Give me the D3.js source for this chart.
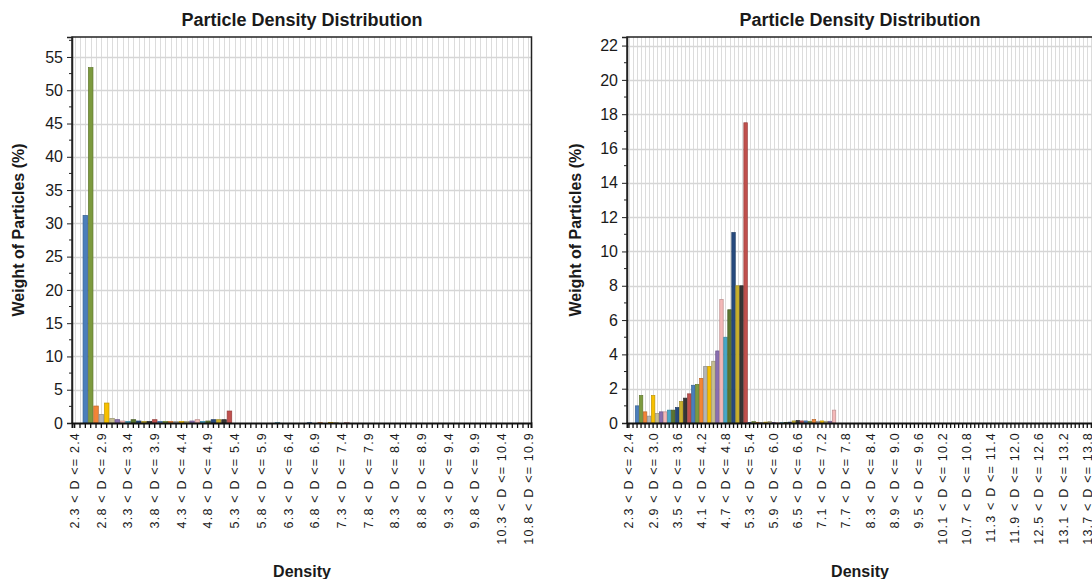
<!DOCTYPE html>
<html>
<head>
<meta charset="utf-8">
<script src="https://cdn.jsdelivr.net/npm/d3@7"></script>
<style>
  body { margin: 0; background: #fff; }
  svg { display: block; font-family: "Liberation Sans", Arial, sans-serif; }
</style>
</head>
<body>
<svg id="chart" width="1092" height="579"></svg>
<script>
// Density bins: each bin covers (lo, lo + 0.1]
const binStart = 2.3;
const binStep = 0.1;

// Weight of particles (%) per density bin, first sample (86 bins: 2.3 .. 10.9)
const leftValues = [
  0, 0, 31.2, 53.4, 2.55, 1.3, 3.0, 0.7, 0.5, 0.3,
  0.25, 0.5, 0.3, 0.25, 0.25, 0.5, 0.25, 0.25, 0.25, 0.2,
  0.25, 0.25, 0.3, 0.5, 0.25, 0.3, 0.5, 0.5, 0.5, 1.8,
  0, 0, 0, 0, 0, 0, 0, 0, 0.05, 0,
  0, 0, 0, 0, 0.05, 0, 0.05, 0, 0.08, 0.05,
  0, 0.08, 0, 0, 0, 0, 0, 0, 0, 0,
  0, 0, 0, 0, 0, 0, 0, 0, 0, 0,
  0, 0, 0, 0, 0, 0, 0, 0, 0, 0,
  0, 0, 0, 0, 0, 0
];

// Weight of particles (%) per density bin, second sample (120 bins: 2.3 .. 14.3)
const rightValues = [
  0, 0, 1.0, 1.6, 0.65, 0.4, 1.6, 0.55, 0.65, 0.65,
  0.75, 0.75, 0.9, 1.25, 1.45, 1.7, 2.2, 2.25, 2.6, 3.3,
  3.3, 3.6, 4.2, 7.2, 5.0, 6.6, 11.1, 8.0, 8.0, 17.5,
  0.03, 0.08, 0.04, 0.03, 0.05, 0.08, 0.03, 0.02, 0.02, 0.03,
  0.05, 0.12, 0.15, 0.12, 0.12, 0.1, 0.2, 0.1, 0.12, 0.1,
  0.1, 0.75, 0, 0, 0, 0, 0, 0, 0, 0,
  0, 0, 0, 0, 0, 0, 0, 0, 0, 0,
  0, 0, 0, 0, 0, 0, 0, 0, 0, 0,
  0, 0, 0, 0, 0, 0, 0, 0, 0, 0,
  0, 0, 0, 0, 0, 0, 0, 0, 0, 0,
  0, 0, 0, 0, 0, 0, 0, 0, 0, 0,
  0, 0, 0, 0, 0, 0, 0, 0, 0, 0
];

const leftYTicks = [0, 5, 10, 15, 20, 25, 30, 35, 40, 45, 50, 55];
const rightYTicks = [0, 2, 4, 6, 8, 10, 12, 14, 16, 18, 20, 22];

// Bar colours cycle through this list by bin index
const palette = [
  "#363636", "#c0504d", "#4a7ebb", "#7c9a3e", "#f28436", "#b5b5b5", "#f7c000",
  "#c6be92", "#8a6fb0", "#f4b8b8", "#48a8c8", "#5b7530", "#274a7e", "#c9b02c"
];

const chartTitle = "Particle Density Distribution";
const xTitle = "Density";
const yTitle = "Weight of Particles (%)";

function binLabel(i) {
  const lo = Math.round((binStart + i * binStep) * 10) / 10;
  const hi = Math.round((lo + binStep) * 10) / 10;
  return `${lo.toFixed(1)} < D <= ${hi.toFixed(1)}`;
}

const svg = d3.select("#chart");
const plotTop = 37, plotBottom = 423;

function drawPanel(cfg) {
  const g = svg.append("g");
  const idx = d3.range(cfg.values.length);
  const x = d3.scaleBand().domain(idx).range([cfg.x0, cfg.x1]).paddingInner(0.14).paddingOuter(0.07);
  const y = d3.scaleLinear().domain([0, cfg.yMax]).range([plotBottom, plotTop]);
  const frameRight = cfg.x1 + 0.5;

  // vertical grid at every bin
  g.append("g").selectAll("line").data(idx).join("line")
    .attr("x1", i => Math.round(x(i) + x.bandwidth() / 2) + 0.5)
    .attr("x2", i => Math.round(x(i) + x.bandwidth() / 2) + 0.5)
    .attr("y1", plotTop).attr("y2", plotBottom)
    .attr("stroke", "#dcdcdc").attr("stroke-width", 1);

  // horizontal grid at major ticks
  g.append("g").selectAll("line").data(cfg.yTicks.filter(t => t > 0)).join("line")
    .attr("x1", cfg.x0).attr("x2", frameRight)
    .attr("y1", d => Math.round(y(d)) + 0.5).attr("y2", d => Math.round(y(d)) + 0.5)
    .attr("stroke", "#d6d6d6").attr("stroke-width", 1.5);

  // bars
  g.append("g").selectAll("rect").data(idx.filter(i => cfg.values[i] > 0)).join("rect")
    .attr("x", i => x(i))
    .attr("width", x.bandwidth())
    .attr("y", i => y(cfg.values[i]))
    .attr("height", i => plotBottom - y(cfg.values[i]))
    .attr("fill", i => palette[i % palette.length])
    .attr("stroke", i => d3.color(palette[i % palette.length]).darker(0.7))
    .attr("stroke-width", 0.7);

  // frame
  g.append("path")
    .attr("d", `M${cfg.x0},${plotBottom}V${plotTop}H${frameRight}V${plotBottom}`)
    .attr("fill", "none").attr("stroke", "#222").attr("stroke-width", 1.5);

  // y axis
  const yAxis = d3.axisLeft(y).tickValues(cfg.yTicks).tickSize(5).tickPadding(4).tickFormat(d3.format("d"));
  const ya = g.append("g").attr("transform", `translate(${cfg.x0},0)`).call(yAxis);
  ya.select(".domain").attr("stroke", "#222").attr("stroke-width", 1.5);
  ya.selectAll(".tick line").attr("stroke", "#222");
  ya.selectAll(".tick text").attr("font-size", 16).attr("fill", "#1a1a1a")
    .attr("font-family", "Liberation Sans, Arial, sans-serif");
  // minor ticks
  const minor = d3.range(cfg.minorStep, cfg.yMax, cfg.minorStep).filter(v => !cfg.yTicks.includes(v));
  g.append("g").selectAll("line").data(minor).join("line")
    .attr("x1", cfg.x0 - 3).attr("x2", cfg.x0)
    .attr("y1", d => y(d)).attr("y2", d => y(d))
    .attr("stroke", "#222");

  // x axis: a tick at every bin, a label at every n-th bin
  const xAxis = d3.axisBottom(x).tickSize(5).tickPadding(3)
    .tickFormat(i => (i % cfg.labelEvery === 0 ? binLabel(i) : ""));
  const xa = g.append("g").attr("transform", `translate(0,${plotBottom})`).call(xAxis);
  xa.select(".domain").attr("stroke", "#111").attr("stroke-width", 2);
  xa.selectAll(".tick line").attr("stroke", "#111").attr("stroke-width", 1.3);
  xa.selectAll(".tick text")
    .attr("font-size", 12.5).attr("fill", "#1a1a1a")
    .attr("font-family", "Liberation Sans, Arial, sans-serif")
    .style("letter-spacing", "1.2px")
    .attr("transform", "rotate(-90)")
    .attr("text-anchor", "end")
    .attr("x", -9).attr("y", 0).attr("dy", "0.35em");

  // titles
  g.append("text").attr("x", cfg.titleX).attr("y", 26)
    .attr("text-anchor", "middle").attr("font-size", 18).attr("font-weight", "bold")
    .attr("fill", "#1a1a1a").text(chartTitle);
  g.append("text").attr("x", cfg.titleX).attr("y", 577)
    .attr("text-anchor", "middle").attr("font-size", 16).attr("font-weight", "bold")
    .attr("fill", "#1a1a1a").text(xTitle);
  g.append("text")
    .attr("transform", `translate(${cfg.yTitleX},230) rotate(-90)`)
    .attr("text-anchor", "middle").attr("font-size", 16).attr("font-weight", "bold")
    .attr("fill", "#1a1a1a").text(yTitle);
}

drawPanel({
  values: leftValues, x0: 72, x1: 531, yMax: 58, yTicks: leftYTicks, minorStep: 2.5,
  labelEvery: 5, titleX: 302, yTitleX: 24
});
drawPanel({
  values: rightValues, x0: 627, x1: 627 + 120 * 4.02, yMax: 22.5, yTicks: rightYTicks, minorStep: 1,
  labelEvery: 6, titleX: 860, yTitleX: 581
});
</script>
</body>
</html>
